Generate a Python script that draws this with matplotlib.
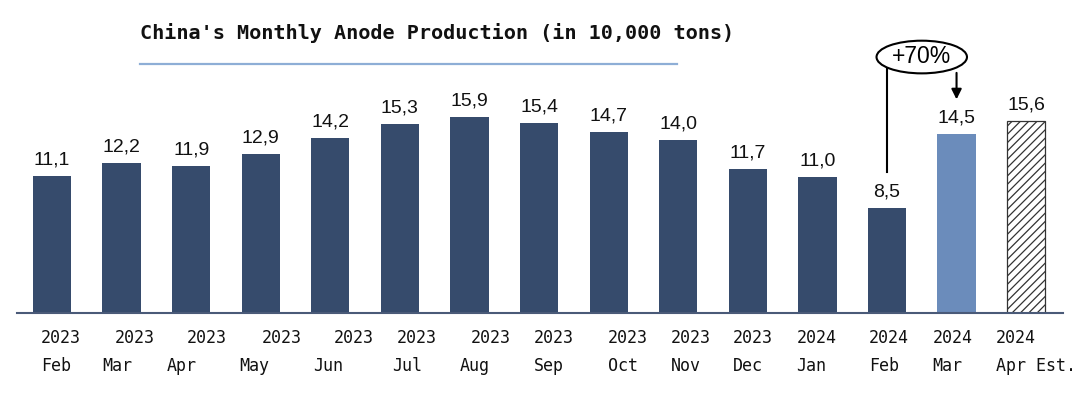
import matplotlib
matplotlib.use("Agg")
import matplotlib.pyplot as plt
from matplotlib.patches import Ellipse
from matplotlib.transforms import offset_copy

years = ["2023"] * 11 + ["2024"] * 4
months = ["Feb", "Mar", "Apr", "May", "Jun", "Jul", "Aug", "Sep", "Oct", "Nov",
          "Dec", "Jan", "Feb", "Mar", "Apr Est."]
values = [11.1, 12.2, 11.9, 12.9, 14.2, 15.3, 15.9, 15.4, 14.7, 14.0, 11.7, 11.0, 8.5, 14.5, 15.6]
value_labels = ["11,1", "12,2", "11,9", "12,9", "14,2", "15,3", "15,9", "15,4", "14,7",
                "14,0", "11,7", "11,0", "8,5", "14,5", "15,6"]
title = "China's Monthly Anode Production (in 10,000 tons)"
growth_label = "+70%"

# horizontal pixel nudges of the category labels (layout only)
year_nudge_px = [-11, -7, -4, 1, 3, -3, 1, -5, -1, -7, -15, -21, -18, -24, -30]
month_nudge_px = [-11, -19, -24, -21, -17, -8, -10, -5, -1, -7, -15, -21, -18, -24, -30]

dark = "#364b6c"
light = "#6b8cbb"

plt.rcParams['hatch.linewidth'] = 0.9
fig = plt.figure(figsize=(10.8, 3.93), dpi=100)
ax = fig.add_axes([17 / 1080, 80 / 393, 1046 / 1080, 246.6 / 393])

x = list(range(len(values)))
colors = [dark] * 13 + [light, "white"]
bars = ax.bar(x, values, width=0.55, color=colors, zorder=2)
last = bars[-1]
last.set_hatch("////")
last.set_edgecolor("#333333")
last.set_linewidth(0.9)

for xi, v, lab in zip(x, values, value_labels):
    ax.text(xi, v + 0.6, lab, ha="center", va="bottom", fontsize=14,
            family="Liberation Sans", color="#111111")

ax.set_xlim(-0.503, 14.53)
ax.set_ylim(0, 20)
for s in ["top", "right", "left"]:
    ax.spines[s].set_visible(False)
ax.spines["bottom"].set_color("#4a5a78")
ax.spines["bottom"].set_linewidth(1.5)
ax.set_yticks([])
ax.set_xticks(x)
ax.set_xticklabels([])
ax.tick_params(axis="x", length=0)

xform = ax.get_xaxis_transform()
for xi, y, m, dy_, dm in zip(x, years, months, year_nudge_px, month_nudge_px):
    tr_y = offset_copy(xform, fig=fig, x=dy_, y=-16, units="dots")
    ax.text(xi, 0, y, transform=tr_y, ha="left", va="top",
            family="DejaVu Sans Mono", fontsize=12, color="#111111", clip_on=False)
    tr_m = offset_copy(xform, fig=fig, x=dm, y=-44, units="dots")
    ax.text(xi, 0, m, transform=tr_m, ha="left", va="top",
            family="DejaVu Sans Mono", fontsize=12, color="#111111", clip_on=False)

# title and underline
fig.text(140 / 1080, 1 - 33 / 393, title, ha="left", va="center",
         family="DejaVu Sans Mono", fontsize=14.5, fontweight="bold", color="#111111")
fig.add_artist(plt.Line2D([140 / 1080, 677 / 1080], [1 - 64 / 393, 1 - 64 / 393],
                          color="#8eaed6", lw=1.6, transform=fig.transFigure))

# growth annotation
ax.plot([12, 12], [values[12] + 2.9, 20.2], color="black", lw=1.5, clip_on=False, zorder=3)
ell = Ellipse((12.5, 20.76), 1.3, 2.65, facecolor="white", edgecolor="black",
              lw=1.5, clip_on=False, zorder=4)
ax.add_patch(ell)
ax.text(12.5, 20.8, growth_label, ha="center", va="center", fontsize=16.5,
        family="Liberation Sans", zorder=5, clip_on=False)
ax.annotate("", xy=(13.0, 17.1), xytext=(13.0, 19.7),
            arrowprops=dict(arrowstyle="-|>", color="black", lw=1.5, mutation_scale=15),
            annotation_clip=False, zorder=3)

fig.savefig("out.png", dpi=100, facecolor="white")
